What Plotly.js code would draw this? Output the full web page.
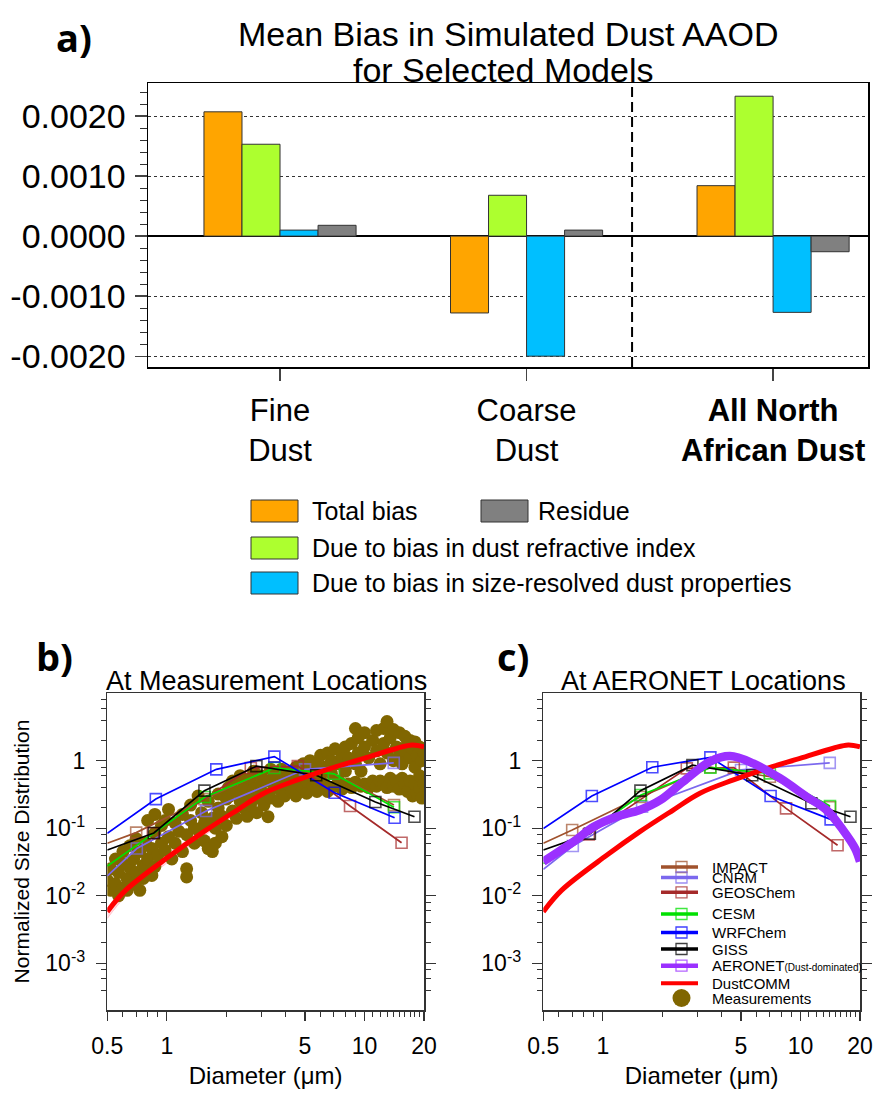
<!DOCTYPE html>
<html><head><meta charset="utf-8">
<script src="https://cdn.plot.ly/plotly-3.0.1.min.js"></script>
<style>html,body{margin:0;padding:0;background:#fff}#chart{width:877px;height:1094px}</style>
</head><body><div id="chart"></div>
<script>
// ---------- Panel a data ----------
const categories = ['Fine Dust', 'Coarse Dust', 'All North African Dust'];
const categoryLabels = ['Fine<br>Dust', 'Coarse<br>Dust', '<b>All North<br>African Dust</b>'];
const totalBias      = [0.00207, -0.00128, 0.00084];
const refractiveBias = [0.00153,  0.00068, 0.00233];
const sizeBias       = [0.00010, -0.00200, -0.00127];
const residueBias    = [0.00018,  0.00010, -0.00026];
const barNames = ['Total bias', 'Due to bias in dust refractive index', 'Due to bias in size-resolved dust properties', 'Residue'];
const aTickVals = [-0.002, -0.001, 0, 0.001, 0.002];
const aTickText = ['-0.0020', '-0.0010', '0.0000', '0.0010', '0.0020'];

// ---------- Panels b/c data ----------
const modelNames = ['IMPACT', 'CNRM', 'GEOSChem', 'CESM', 'WRFChem', 'GISS'];
const impactD = [0.5, 0.70, 1.55, 3.5, 7.0, 14.1];
const impactB = [0.060, 0.086, 0.27, 0.80, 0.64, 0.22];
const impactC = [0.060, 0.094, 0.29, 0.80, 0.58, 0.204];
const cnrmD = [0.5, 0.705, 1.58, 5.0, 14.06];
const cnrmB = [0.0196, 0.050, 0.18, 0.745, 0.93];
const cnrmC = [0.0245, 0.0545, 0.208, 0.73, 0.93];
const geosD = [0.85, 2.66, 4.6, 8.45, 15.4];
const geosB = [0.084, 0.78, 0.83, 0.213, 0.061];
const geosC = [0.081, 0.77, 0.79, 0.197, 0.056];
const cesmD = [0.5, 1.56, 3.5, 7.0, 14.1];
const cesmB = [0.0275, 0.29, 0.78, 0.64, 0.204];
const cesmC = [0.030, 0.31, 0.79, 0.65, 0.213];
const wrfD = [0.5, 0.88, 1.78, 3.5, 7.06, 14.2];
const wrfB = [0.084, 0.27, 0.745, 1.15, 0.336, 0.143];
const wrfC = [0.099, 0.30, 0.80, 1.12, 0.30, 0.135];
const gissD = [0.5, 0.86, 1.55, 2.84, 5.7, 11.35, 17.9];
const gissB = [0.0475, 0.085, 0.36, 0.83, 0.61, 0.245, 0.148];
const gissC = [0.0475, 0.083, 0.36, 0.86, 0.61, 0.234, 0.148];

const dustcommD = [0.5, 0.62, 1.05, 1.54, 2.27, 3.1, 4.58, 6.75, 9.94, 14.65, 17.45, 20];
const dustcommV = [0.0058, 0.0121, 0.040, 0.089, 0.186, 0.33, 0.52, 0.77, 1.08, 1.53, 1.71, 1.61];
const dustcommLo = [0.0046, 0.0098, 0.034, 0.077, 0.165, 0.30, 0.47, 0.70, 0.99, 1.40, 1.56, 1.47];
const dustcommHi = [0.0066, 0.0136, 0.045, 0.098, 0.205, 0.36, 0.57, 0.85, 1.19, 1.68, 1.88, 1.78];

const aeronetD = [0.5, 0.71, 0.9, 1.17, 1.54, 1.95, 2.55, 3.48, 4.4, 5.77, 7.87, 10.74, 13.55, 16.4, 18.9, 20];
const aeronetV = [0.032, 0.063, 0.105, 0.148, 0.186, 0.26, 0.49, 0.97, 1.17, 0.91, 0.55, 0.293, 0.186, 0.094, 0.050, 0.032];

const measD = [
0.50, 0.52,0.52, 0.55,0.55, 0.57,0.57, 0.60,0.60,0.60, 0.63,0.63, 0.65,0.65, 0.68,0.68, 0.70,0.70, 0.73,0.73, 0.76,0.76, 0.78,0.78, 0.80,0.80, 0.84,0.84, 0.87,0.87,0.87, 0.90, 0.94,0.94, 0.98,0.98, 1.02,1.02, 1.06, 1.10,1.10, 1.15, 1.20,1.20, 1.26,1.26,1.26, 1.32,1.32, 1.38,1.38, 1.44,1.44, 1.50, 1.55,1.55, 1.62,1.62, 1.70,1.70, 1.76,1.76, 1.82,1.82, 1.90,1.90, 2.00,2.00, 2.05,2.05, 2.15,2.15, 2.25,2.25, 2.35,2.35, 2.45,2.45, 2.55,2.55, 2.65,2.65, 2.75,2.75, 2.85,2.85, 3.00,3.00, 3.10,3.10, 3.25,3.25, 3.35,3.35, 3.50,3.50, 3.65,3.65, 3.80,3.80, 3.95,3.95, 4.10,4.10, 4.30,4.30, 4.50,4.50, 4.70,4.70, 4.90,4.90, 5.10,5.10, 5.30,5.30, 5.50,5.50, 5.75,5.75, 6.00,6.00, 6.25,6.25, 6.50,6.50, 6.80,6.80, 7.10,7.10, 7.40,7.40, 7.70,7.70, 8.00,8.00, 8.30,8.30, 8.60,8.60, 9.00,9.00,9.00, 9.30,9.30, 9.60,9.60, 10.0,10.0,10.0, 10.5,10.5, 11.0,11.0, 11.5,11.5,11.5, 12.0,12.0, 12.5,12.5,12.5, 13.0,13.0,13.0, 13.5,13.5, 14.0,14.0,14.0, 14.5,14.5, 15.0,15.0,15.0, 15.5,15.5, 16.0,16.0,16.0, 16.5,16.5, 17.0,17.0,17.0, 17.5,17.5, 18.0,18.0,18.0, 18.5,18.5, 19.0,19.0,19.0, 19.5,19.5, 20.0,20.0];
const measV = [
0.017, 0.012,0.025, 0.015,0.035, 0.010,0.022, 0.013,0.030,0.045, 0.018,0.012, 0.026,0.055, 0.015,0.035, 0.022,0.070, 0.012,0.045, 0.028,0.018, 0.060,0.023, 0.13,0.035, 0.050,0.020, 0.16,0.027,0.085, 0.040, 0.11,0.060, 0.047,0.13, 0.075,0.19, 0.035, 0.12,0.060, 0.090, 0.16,0.045, 0.025,0.019,0.080, 0.13,0.22, 0.060,0.10, 0.095,0.30, 0.17, 0.12,0.065, 0.25,0.050, 0.045,0.14, 0.10,0.060, 0.32,0.20, 0.075,0.15, 0.27,0.11, 0.29,0.40, 0.18,0.50, 0.35,0.14, 0.25,0.60, 0.20,0.42, 0.30,0.15, 0.55,0.22, 0.38,0.70, 0.28,0.17, 0.45,0.60, 0.22,0.33, 0.148,0.50, 0.75,0.28, 0.40,0.60, 0.25,0.45, 0.35,0.75, 0.55,0.30, 0.45,0.68, 0.35,0.55, 0.30,0.80, 0.45,0.60, 0.38,0.90, 0.50,0.33, 0.70,1.00, 0.42,0.55, 0.85,0.35, 0.60,1.20, 0.45,0.80, 1.30,0.35, 0.65,1.00, 0.42,1.50, 0.90,0.50, 1.20,0.38, 0.70,1.60, 0.45,1.10, 1.80,0.40, 3.00,0.90,0.48, 1.30,2.20, 0.42,0.70, 1.60,2.60,0.45, 1.10,0.40, 2.00,0.50, 1.40,2.80,0.42, 0.90,0.50, 1.80,0.45,3.00, 3.80,1.30,0.40, 0.55,2.20, 1.00,0.42,2.90, 1.60,0.50, 2.60,0.38,1.20, 0.90,0.55, 2.30,0.45,1.40, 0.35,1.80, 1.10,0.50,2.00, 0.30,1.50, 0.80,0.45,1.90, 1.20,0.32, 0.60,1.60,0.40, 1.00,0.28, 0.45,1.30];

const xTickVals = [0.5, 1, 5, 10, 20];
const xTickText = ['0.5', '1', '5', '10', '20'];
const yTickVals = [0.001, 0.01, 0.1, 1];
const yTickText = ['10<sup>-3</sup>', '10<sup>-2</sup>', '10<sup>-1</sup>', '1'];

// ---------- styles ----------
const barColors = ['#FFA500', '#ADFF2F', '#00BFFF', '#808080'];
const modelColors = ['#A0522D', '#7B68EE', '#A52A2A', '#00E000', '#0000FF', '#000000'];
const purple = '#9B30FF', red = '#FF0000', olive = '#806600';
const FONT = 'Liberation Sans, Arial, Helvetica, sans-serif';
const W = 877, H = 1094;
const fx = p => p / W, fy = p => 1 - p / H;

const traces = [];
[totalBias, refractiveBias, sizeBias, residueBias].forEach((vals, i) => {
  traces.push({type: 'bar', x: categories, y: vals, name: barNames[i], xaxis: 'x', yaxis: 'y',
    marker: {color: barColors[i], line: {color: '#333', width: 1}}, showlegend: false, hoverinfo: 'skip'});
});

function modelTrace(d, v, color, ax) {
  return {type: 'scatter', mode: 'lines+markers', x: d, y: v, xaxis: 'x' + ax, yaxis: 'y' + ax,
    line: {color: color, width: 1.7},
    marker: {symbol: 'square-open', size: d.map(x => x > 0.5 ? 11 : 0), color: color, line: {width: 1.6, color: color}},
    showlegend: false, hoverinfo: 'skip'};
}
const modelSetsB = [[impactD, impactB], [cnrmD, cnrmB], [geosD, geosB], [cesmD, cesmB], [wrfD, wrfB], [gissD, gissB]];
const modelSetsC = [[impactD, impactC], [cnrmD, cnrmC], [geosD, geosC], [cesmD, cesmC], [wrfD, wrfC], [gissD, gissC]];

// Panel b
traces.push({type: 'scatter', mode: 'lines', x: dustcommD, y: dustcommLo, xaxis: 'x2', yaxis: 'y2',
  line: {color: 'rgba(255,182,193,0.8)', width: 1, shape: 'spline'}, showlegend: false, hoverinfo: 'skip'});
traces.push({type: 'scatter', mode: 'lines', x: dustcommD, y: dustcommHi, xaxis: 'x2', yaxis: 'y2', fill: 'tonexty',
  fillcolor: 'rgba(255,192,203,0.55)', line: {color: 'rgba(255,182,193,0.8)', width: 1, shape: 'spline'}, showlegend: false, hoverinfo: 'skip'});
traces.push({type: 'scatter', mode: 'markers', x: measD, y: measV, xaxis: 'x2', yaxis: 'y2', name: 'Measurements',
  marker: {color: olive, size: 13}, showlegend: false, hoverinfo: 'skip'});
modelSetsB.forEach((s, i) => traces.push(modelTrace(s[0], s[1], modelColors[i], 2)));
traces.push({type: 'scatter', mode: 'lines', x: dustcommD, y: dustcommV, xaxis: 'x2', yaxis: 'y2', name: 'DustCOMM',
  line: {color: red, width: 5, shape: 'spline'}, showlegend: false, hoverinfo: 'skip'});

// Panel c
modelSetsC.forEach((s, i) => traces.push(modelTrace(s[0], s[1], modelColors[i], 3)));
traces.push({type: 'scatter', mode: 'lines', x: dustcommD, y: dustcommV, xaxis: 'x3', yaxis: 'y3', name: 'DustCOMM',
  line: {color: red, width: 5, shape: 'spline'}, showlegend: false, hoverinfo: 'skip'});
traces.push({type: 'scatter', mode: 'lines', x: aeronetD, y: aeronetV, xaxis: 'x3', yaxis: 'y3', name: 'AERONET',
  line: {color: purple, width: 8.5, shape: 'spline'}, showlegend: false, hoverinfo: 'skip'});

const minorX = [0.6, 0.7, 0.8, 0.9, 2, 3, 4, 6, 7, 8, 9, 11, 12, 13, 14, 15, 16, 17, 18, 19];
const minorY = [];
[0.0001, 0.001, 0.01, 0.1, 1].forEach(dec => [2, 4, 6, 8].forEach(k => minorY.push(dec * k)));

function logX(domain, anchor) {
  return {type: 'log', domain: domain, anchor: anchor, range: [Math.log10(0.5), Math.log10(20)],
    tickmode: 'array', tickvals: xTickVals, ticktext: xTickText, ticks: 'outside', ticklen: 9, tickwidth: 1.3,
    tickcolor: '#333', showline: true, linecolor: '#333', linewidth: 1.5, mirror: true, showgrid: false, zeroline: false,
    ticklabelstandoff: 6, tickfont: {size: 23, color: '#000', family: FONT},
    minor: {tickmode: 'array', tickvals: minorX, ticks: 'outside', ticklen: 5, tickwidth: 1, tickcolor: '#333', showgrid: false},
    title: {text: 'Diameter (\u03bcm)', font: {size: 24, color: '#000', family: FONT}, standoff: 9}};
}
function logY(domain, anchor, title) {
  return {type: 'log', domain: domain, anchor: anchor, range: [-3.693, 1.003],
    tickmode: 'array', tickvals: yTickVals, ticktext: yTickText, ticks: 'outside', ticklen: 10, tickwidth: 1.3,
    tickcolor: '#333', showline: true, linecolor: '#333', linewidth: 1.5, mirror: 'allticks', showgrid: false, zeroline: false,
    ticklabelstandoff: 6, tickfont: {size: 23, color: '#000', family: FONT},
    minor: {tickmode: 'array', tickvals: minorY, ticks: 'outside', ticklen: 5, tickwidth: 1, tickcolor: '#333', showgrid: false},
    title: title ? {text: title, font: {size: 21, color: '#000', family: FONT}, standoff: 10} : {text: ''}};
}

function label(text, x, y, size, family, anchor) {
  return {text: text, x: fx(x), y: fy(y), xref: 'paper', yref: 'paper', xanchor: anchor || 'center', yanchor: 'middle',
    showarrow: false, font: {family: family || FONT, size: size, color: '#000'}};
}

const shapes = [
  {type: 'line', xref: 'x', yref: 'paper', x0: 1.428, x1: 1.428, y0: fy(367), y1: fy(83), line: {color: '#000', width: 2, dash: '10px,5px'}},
];
const annotations = [
  label('<b>a)</b>', 74, 37, 38, 'Open Sans'),
  label('<b>b)</b>', 54, 656, 38, 'Open Sans'),
  label('<b>c)</b>', 513, 656, 38, 'Open Sans'),
  label('Mean Bias in Simulated Dust AAOD', 508, 34, 34),
  label('for Selected Models', 503, 70, 34),
  label('At Measurement Locations', 266, 681, 27),
  label('At AERONET Locations', 703, 681, 27),
];

// Panel a legend (drawn)
const aLegend = [
  {i: 0, bx: 251, y: 511, tx: 310},
  {i: 3, bx: 481, y: 511, tx: 536},
  {i: 1, bx: 251, y: 548, tx: 310},
  {i: 2, bx: 251, y: 583, tx: 310},
];
aLegend.forEach(e => {
  shapes.push({type: 'rect', xref: 'paper', yref: 'paper', x0: fx(e.bx), x1: fx(e.bx + 47), y0: fy(e.y + 11), y1: fy(e.y - 11),
    fillcolor: barColors[e.i], line: {color: '#333', width: 1}});
  annotations.push(label(barNames[e.i], e.tx, e.y, 25, FONT, 'left'));
});

// Panel c legend (drawn)
const cLegend = [
  {label: modelNames[0], color: modelColors[0], y: 867, w: 3.5, sq: true},
  {label: modelNames[1], color: modelColors[1], y: 877.5, w: 3.5, sq: true},
  {label: modelNames[2], color: modelColors[2], y: 892.3, w: 3.5, sq: true},
  {label: modelNames[3], color: modelColors[3], y: 914, w: 3.5, sq: true},
  {label: modelNames[4], color: modelColors[4], y: 932.5, w: 3.5, sq: true},
  {label: modelNames[5], color: modelColors[5], y: 949, w: 3.5, sq: true},
  {label: 'AERONET<span style="font-size:10px">(Dust-dominated)</span>', color: purple, y: 965.7, w: 4.5, sq: true},
  {label: 'DustCOMM', color: red, y: 983.3, w: 4, sq: false},
];
cLegend.forEach(e => {
  shapes.push({type: 'line', xref: 'paper', yref: 'paper', x0: fx(661), x1: fx(698), y0: fy(e.y), y1: fy(e.y), line: {color: e.color, width: e.w}});
  if (e.sq) shapes.push({type: 'rect', xref: 'paper', yref: 'paper', x0: fx(676), x1: fx(687), y0: fy(e.y + 5.5), y1: fy(e.y - 5.5),
    line: {color: e.color, width: 1.3}, opacity: 0.75});
  annotations.push(label(e.label, 710, e.y, 15, FONT, 'left'));
});
shapes.push({type: 'circle', xref: 'paper', yref: 'paper', x0: fx(672.5), x1: fx(690.5), y0: fy(1007), y1: fy(989), fillcolor: olive, line: {width: 0}});
annotations.push(label('Measurements', 710, 998.5, 15, FONT, 'left'));

const layout = {
  width: W, height: H, margin: {l: 0, r: 0, t: 0, b: 0}, paper_bgcolor: '#fff', plot_bgcolor: '#fff',
  font: {family: FONT, color: '#000'}, showlegend: false,
  barmode: 'group', bargap: 0.383, bargroupgap: 0,
  xaxis: {domain: [fx(148), fx(868)], anchor: 'y', type: 'category', range: [-0.5355, 2.385],
    tickmode: 'array', tickvals: categories, ticktext: categoryLabels, ticks: 'outside', ticklen: 12, tickwidth: 1.3,
    showline: true, linecolor: '#000', linewidth: 1.5, mirror: true, showgrid: false, zeroline: false,
    ticklabelstandoff: 3, tickfont: {size: 31, color: '#000', family: FONT}},
  yaxis: {domain: [fy(367), fy(83)], anchor: 'x', range: [-0.00218, 0.00255],
    tickmode: 'array', tickvals: aTickVals, ticktext: aTickText, ticks: 'outside', ticklen: 12, tickwidth: 1.3,
    showline: true, linecolor: '#000', linewidth: 1.5, mirror: true,
    showgrid: true, gridcolor: '#333', gridwidth: 1, griddash: 'dot',
    zeroline: true, zerolinecolor: '#000', zerolinewidth: 1.5,
    ticklabelstandoff: 2, tickfont: {size: 34, color: '#000', family: FONT},
    minor: {dtick: 0.0002, tick0: 0, ticks: 'outside', ticklen: 7, tickwidth: 1, tickcolor: '#333', showgrid: false}},
  xaxis2: logX([fx(107.3), fx(424)], 'y2'),
  yaxis2: logY([fy(1010), fy(693)], 'x2', 'Normalized Size Distribution'),
  xaxis3: logX([fx(543.3), fx(860)], 'y3'),
  yaxis3: logY([fy(1010), fy(693)], 'x3', null),
  shapes: shapes, annotations: annotations,
};

Plotly.newPlot('chart', traces, layout, {staticPlot: true, displayModeBar: false});
</script></body></html>
